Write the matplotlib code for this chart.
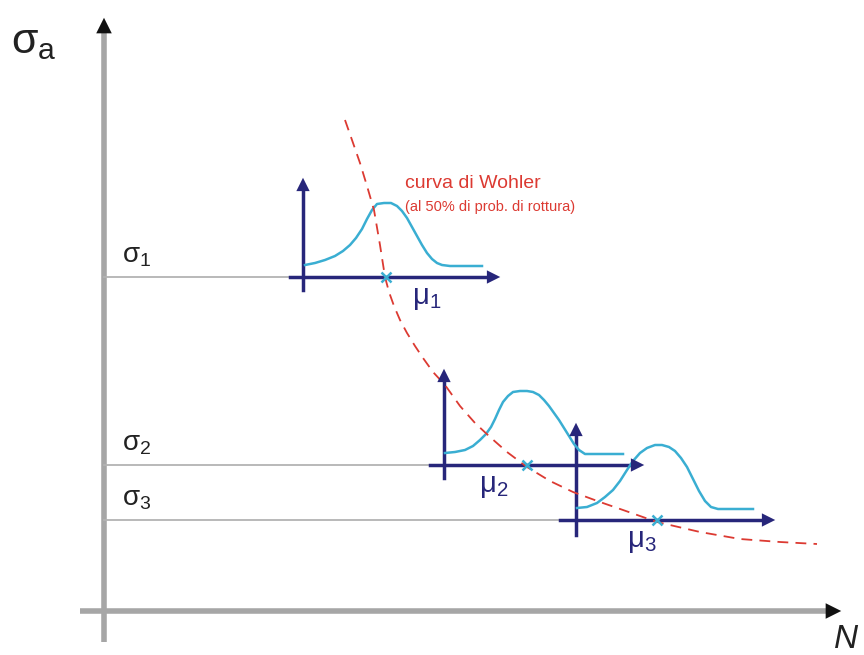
import numpy as np
import matplotlib
matplotlib.use("Agg")
import matplotlib.pyplot as plt

# diagram coordinates (image units, y grows downward)
sigma_labels = [r"$\sigma_1$", r"$\sigma_2$", r"$\sigma_3$"]
sigma_y = [277, 465, 520]
mu_labels = [r"$\mu_1$", r"$\mu_2$", r"$\mu_3$"]
mu_x = [386, 527, 657]
mu_label_x = [412, 479, 627]

# small distribution axes
dist_x0 = [303, 444, 576]
dist_top = [175, 366, 420]
dist_bottom = [290, 478, 535]
dist_left = [290, 430, 560]
dist_right = [503, 647, 778]

# bell curves
pdf1_x = [305, 315, 325, 335, 343, 350, 356, 362, 367, 372, 377, 384, 391, 397,
          402, 407, 412, 417, 422, 427, 432, 437, 442, 450, 482]
pdf1_y = [265, 263, 260, 256, 251, 245, 238, 229, 219, 210, 204, 203, 203, 206,
          211, 218, 227, 236, 245, 253, 259, 263, 265, 266, 266]
pdf2_x = [445, 455, 465, 473, 480, 486, 491, 495, 499, 503, 508, 513, 520, 527,
          533, 539, 544, 549, 554, 559, 564, 569, 574, 579, 585, 623]
pdf2_y = [453, 452, 450, 446, 440, 434, 427, 419, 410, 402, 396, 392, 391, 391,
          392, 395, 400, 406, 413, 420, 428, 436, 444, 450, 454, 454]
pdf3_x = [577, 587, 597, 605, 613, 620, 627, 633, 640, 647, 655, 662, 669, 675,
          681, 687, 693, 699, 705, 711, 718, 753]
pdf3_y = [508, 507, 503, 497, 490, 481, 470, 461, 453, 448, 445, 445, 447, 451,
          458, 467, 479, 491, 501, 507, 509, 509]

# Wohler curve (50% failure probability)
wohler_x = [345, 352, 360, 367, 374, 380, 385, 389, 394, 400, 407, 415, 423, 433,
            445, 460, 475, 490, 507, 527, 550, 573, 600, 623, 657, 700, 740, 780, 817]
wohler_y = [120, 140, 163, 186, 210, 245, 277, 292, 306, 320, 333, 346, 358, 372,
            385, 406, 423, 437, 452, 467, 481, 492, 502, 510, 522, 532, 539, 542, 544]

NAVY = "#27267a"
CYAN = "#3aaed2"
RED = "#dc3a32"
GRAY = "#a6a6a6"

plt.rcParams["font.family"] = ["Liberation Sans", "DejaVu Sans"]
plt.rcParams["mathtext.default"] = "regular"

fig = plt.figure(figsize=(8.64, 6.55), dpi=100)
ax = fig.add_axes([0, 0, 1, 1])
ax.set_xlim(0, 864)
ax.set_ylim(655, 0)
ax.axis("off")

# main axes
ax.plot([104, 104], [642, 30], color=GRAY, lw=4, solid_capstyle="butt")
ax.plot([80, 828], [611, 611], color=GRAY, lw=4, solid_capstyle="butt")
ax.annotate("", xy=(104, 15), xytext=(104, 35),
            arrowprops=dict(arrowstyle="-|>", color="#111111", lw=0, mutation_scale=28))
ax.annotate("", xy=(844, 611), xytext=(824, 611),
            arrowprops=dict(arrowstyle="-|>", color="#111111", lw=0, mutation_scale=28))
ax.text(11, 42, r"$\sigma_a$", fontsize=31, va="center", ha="left", color="#222222")
ax.text(834, 655, "N", fontsize=24, style="italic", va="bottom", ha="left", color="#222222")

# stress levels
for lab, y, right in zip(sigma_labels, sigma_y, dist_left):
    ax.plot([104, right + 10], [y, y], color="#b3b3b3", lw=1.3)
    ax.text(122, y - 8, lab, fontsize=20, va="bottom", ha="left", color="#222222")

# distribution axes
for x0, top, bot, left, right, y in zip(dist_x0, dist_top, dist_bottom,
                                        dist_left, dist_right, sigma_y):
    ax.plot([x0, x0], [bot, top + 14], color=NAVY, lw=2.5)
    ax.plot([left, right - 14], [y, y], color=NAVY, lw=2.5)
    ax.annotate("", xy=(x0, top), xytext=(x0, top + 16),
                arrowprops=dict(arrowstyle="-|>", color=NAVY, lw=0, mutation_scale=24))
    ax.annotate("", xy=(right, y), xytext=(right - 16, y),
                arrowprops=dict(arrowstyle="-|>", color=NAVY, lw=0, mutation_scale=24))

for px, py in [(pdf1_x, pdf1_y), (pdf2_x, pdf2_y), (pdf3_x, pdf3_y)]:
    ax.plot(px, py, color=CYAN, lw=1.8, solid_joinstyle="round")

# Wohler curve
ax.plot(wohler_x, wohler_y, color=RED, lw=1.3, linestyle=(0, (6, 4)))
ax.text(405, 184, "curva di Wohler", fontsize=14, color=RED, va="center", ha="left")
ax.text(405, 207, "(al 50% di prob. di rottura)", fontsize=10.5, color=RED,
        va="center", ha="left")

# mean values
for lab, mx, lx, y in zip(mu_labels, mu_x, mu_label_x, sigma_y):
    ax.plot(mx, y, marker="x", color=CYAN, ms=7, mew=1.8)
    ax.text(lx, y + 7, lab, fontsize=21, color=NAVY, va="top", ha="left")

fig.savefig("out.png", dpi=100)
